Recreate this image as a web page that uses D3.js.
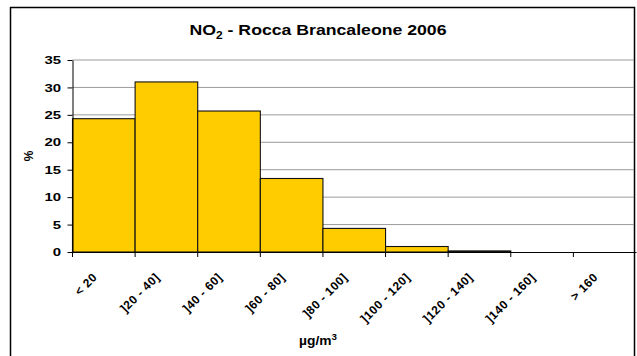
<!DOCTYPE html>
<html><head><meta charset="utf-8">
<script src="https://cdn.jsdelivr.net/npm/d3@7"></script>
<style>body{margin:0;background:#fff}svg{display:block;font-family:"Liberation Sans",Arial,sans-serif}</style>
</head><body>
<svg id="c" width="637" height="356"></svg>
<script>
const categories = ["< 20","]20 - 40]","]40 - 60]","]60 - 80]","]80 - 100]","]100 - 120]","]120 - 140]","]140 - 160]","> 160"];
const values = [24.3, 31.0, 25.7, 13.4, 4.3, 1.0, 0.2, 0, 0];
const yTicks = [0,5,10,15,20,25,30,35];

const svg = d3.select("#c");
const m = {left:72.5, right:636, top:60, bottom:252};

// outer border
svg.append("rect").attr("x",10.5).attr("y",7.5).attr("width",624).attr("height",360)
  .attr("fill","#fff").attr("stroke","#000").attr("stroke-width",1.5);

const x = d3.scaleBand().domain(categories).range([m.left, m.right]).padding(0);
const y = d3.scaleLinear().domain([0,35]).range([m.bottom, m.top]);

// gridlines
svg.append("g").selectAll("line").data(yTicks.filter(d=>d>0)).join("line")
  .attr("x1",m.left).attr("x2",634).attr("y1",d=>y(d)).attr("y2",d=>y(d))
  .attr("stroke","#9a9a9a").attr("stroke-width",1);

// bars
svg.append("g").selectAll("rect").data(values).join("rect")
  .attr("x",(d,i)=>x(categories[i]))
  .attr("y",d=>y(d))
  .attr("width",x.bandwidth())
  .attr("height",d=>m.bottom-y(d))
  .attr("fill","#FFCC00").attr("stroke","#111").attr("stroke-width",1.1);

// y axis
const ya = svg.append("g").attr("transform",`translate(${m.left},0)`)
  .call(d3.axisLeft(y).tickValues(yTicks).tickSize(5).tickSizeOuter(0));
ya.select(".domain").attr("stroke","#000");
ya.selectAll(".tick line").attr("stroke","#000");
ya.selectAll("text").attr("font-size",11.5).attr("font-weight","bold").attr("fill","#000")
  .attr("transform","scale(1.3,1)").attr("x",-11.5/1.3);

// x axis
const xa = svg.append("g").attr("transform",`translate(0,${m.bottom})`)
  .call(d3.axisBottom(x).tickSize(0).tickSizeOuter(0));
xa.select(".domain").attr("stroke","#000").attr("stroke-width",1.2);
xa.selectAll(".tick text").remove();
// tick marks at band boundaries
svg.append("g").selectAll("line").data(categories).join("line")
  .attr("x1",d=>x(d)).attr("x2",d=>x(d)).attr("y1",m.bottom).attr("y2",m.bottom+5)
  .attr("stroke","#000");
// rotated labels
svg.append("g").selectAll("text").data(categories).join("text")
  .attr("transform",d=>`translate(${x(d)+x.bandwidth()/2-6},${m.bottom+26}) rotate(-45)`)
  .attr("text-anchor","end")
  .attr("font-size",12).attr("font-weight","bold").attr("fill","#000")
  .attr("letter-spacing",0.5)
  .text(d=>d);

// title
const t = svg.append("text").attr("transform","translate(318,35) scale(1.14,1)").attr("text-anchor","middle")
  .attr("font-size",15.5).attr("font-weight","bold");
t.append("tspan").text("NO");
t.append("tspan").attr("font-size",10.5).attr("dy",4).text("2");
t.append("tspan").attr("dy",-4).text(" - Rocca Brancaleone 2006");

// y label
svg.append("text").attr("transform","translate(33,156) rotate(-90)").attr("text-anchor","middle")
  .attr("font-size",12).attr("font-weight","bold").text("%");

// x label
const xl = svg.append("text").attr("transform","translate(318,345) scale(1.15,1)").attr("text-anchor","middle")
  .attr("font-size",12).attr("font-weight","bold");
xl.append("tspan").text("µg/m");
xl.append("tspan").attr("font-size",8.5).attr("dy",-5).text("3");
</script>
</body></html>
